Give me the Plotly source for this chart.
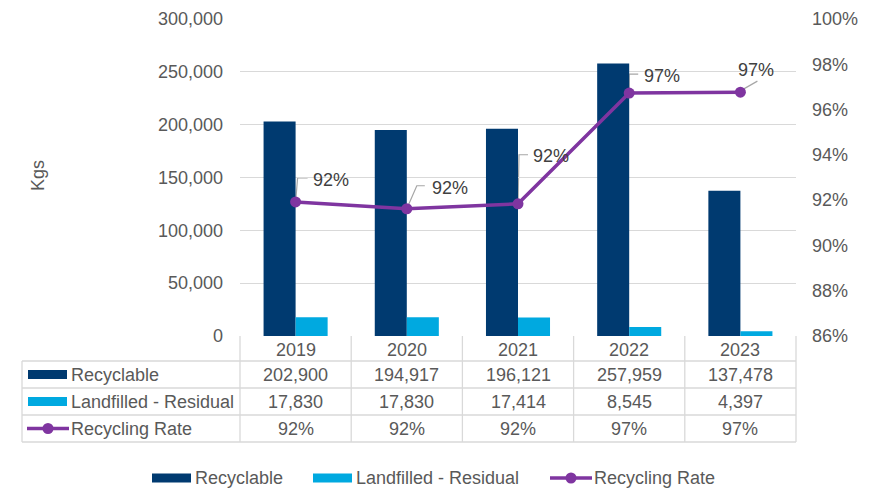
import plotly.graph_objects as go

# ---- data ----
years = ["2019", "2020", "2021", "2022", "2023"]
recyclable = [202900, 194917, 196121, 257959, 137478]
landfilled = [17830, 17830, 17414, 8545, 4397]
recycling_rate = [0.9192, 0.9162, 0.9184, 0.9673, 0.9677]

series_names = ["Recyclable", "Landfilled - Residual", "Recycling Rate"]

# ---- styling ----
W, H = 879, 488
NAVY = "#003A70"
CYAN = "#00A9E0"
PURPLE = "#7F35A0"
GRID = "#D9D9D9"
TXT = "#595959"
FONT = "Liberation Sans, Arial, sans-serif"
FS = 18

# plot area in pixels
PL, PR, PT, PB = 240, 796, 19, 336
TABLE_LEFT = 22
ROW_LINES = [361, 388, 415, 442]


def px(x):
    return x / W


def py(y):
    return 1 - y / H


fig = go.Figure()

fig.add_trace(go.Bar(x=years, y=recyclable, name=series_names[0],
                     marker=dict(color=NAVY, line=dict(width=0)),
                     showlegend=False, hoverinfo="x+y"))
fig.add_trace(go.Bar(x=years, y=landfilled, name=series_names[1],
                     marker=dict(color=CYAN, line=dict(width=0)),
                     showlegend=False, hoverinfo="x+y"))
fig.add_trace(go.Scatter(x=years, y=recycling_rate, name=series_names[2],
                         yaxis="y2", mode="lines+markers",
                         line=dict(color=PURPLE, width=3.5),
                         marker=dict(color=PURPLE, size=11),
                         showlegend=False))

shapes = []
annotations = []

# data labels with leader lines (pixel offsets from each point)
leader_paths = [
    "M0,0 L2,24 L12,24",
    "M0,0 L10,23 L18,23",
    "M0,0 L1,49 L10,49",
    "M0,0 L0,19 L9,19",
    "M3,3 L17,11",
]
label_offsets = [(15, 22), (23, 21), (13, 48), (13, 17), (-4, 22)]

for i, (r, path, (dx, dy)) in enumerate(zip(recycling_rate, leader_paths, label_offsets)):
    shapes.append(dict(type="path", xref="x", yref="y2",
                       xsizemode="pixel", ysizemode="pixel",
                       xanchor=i, yanchor=r, path=path,
                       line=dict(color="#A6A6A6", width=1.2), layer="below"))
    annotations.append(dict(x=i, y=r, xref="x", yref="y2", text=f"{r:.0%}",
                            showarrow=False, xanchor="left", yanchor="middle",
                            xshift=dx, yshift=dy,
                            font=dict(family=FONT, size=FS, color="#404040")))

# ---- data table under the chart ----
n = len(years)
col_w = (PR - PL) / n
col_edges = [PL + i * col_w for i in range(n + 1)]

for xe in col_edges:
    shapes.append(dict(type="line", xref="paper", yref="paper",
                       x0=px(xe), x1=px(xe), y0=py(PB), y1=py(ROW_LINES[-1]),
                       line=dict(color=GRID, width=1.3)))
shapes.append(dict(type="line", xref="paper", yref="paper",
                   x0=px(TABLE_LEFT), x1=px(TABLE_LEFT),
                   y0=py(ROW_LINES[0]), y1=py(ROW_LINES[-1]),
                   line=dict(color=GRID, width=1.3)))
for yl in ROW_LINES:
    shapes.append(dict(type="line", xref="paper", yref="paper",
                       x0=px(TABLE_LEFT), x1=px(PR), y0=py(yl), y1=py(yl),
                       line=dict(color=GRID, width=1.3)))

row_values = [
    [f"{v:,}" for v in recyclable],
    [f"{v:,}" for v in landfilled],
    [f"{v:.0%}" for v in recycling_rate],
]

header_mid = (PB + ROW_LINES[0]) / 2 + 1
for i, yr in enumerate(years):
    annotations.append(dict(x=px(col_edges[i] + col_w / 2), y=py(header_mid),
                            xref="paper", yref="paper", text=yr, showarrow=False,
                            xanchor="center", yanchor="middle",
                            font=dict(family=FONT, size=FS, color=TXT)))


def add_key(x_left, y_mid, kind, color):
    """Series key: a bar swatch or a line with a marker."""
    if kind == "bar":
        shapes.append(dict(type="rect", xref="paper", yref="paper",
                           x0=px(x_left), x1=px(x_left + 39),
                           y0=py(y_mid + 4.5), y1=py(y_mid - 4.5),
                           fillcolor=color, line=dict(width=0)))
    else:
        shapes.append(dict(type="line", xref="paper", yref="paper",
                           x0=px(x_left - 1), x1=px(x_left + 41),
                           y0=py(y_mid), y1=py(y_mid),
                           line=dict(color=color, width=3.5)))
        shapes.append(dict(type="circle", xref="paper", yref="paper",
                           x0=px(x_left + 20 - 5.5), x1=px(x_left + 20 + 5.5),
                           y0=py(y_mid + 5.5), y1=py(y_mid - 5.5),
                           fillcolor=color, line=dict(width=0)))


kinds = ["bar", "bar", "line"]
colors = [NAVY, CYAN, PURPLE]
for r in range(3):
    ymid = (ROW_LINES[r] + ROW_LINES[r + 1]) / 2
    add_key(28, ymid, kinds[r], colors[r])
    annotations.append(dict(x=px(69), y=py(ymid), xref="paper", yref="paper",
                            text=series_names[r], showarrow=False,
                            xanchor="left", yanchor="middle",
                            font=dict(family=FONT, size=FS, color=TXT)))
    for i, val in enumerate(row_values[r]):
        annotations.append(dict(x=px(col_edges[i] + col_w / 2), y=py(ymid),
                                xref="paper", yref="paper", text=val,
                                showarrow=False, xanchor="center", yanchor="middle",
                                font=dict(family=FONT, size=FS, color=TXT)))

# ---- legend at the bottom ----
legend_y = 478
legend_x = [152, 313, 551]
for k in range(3):
    add_key(legend_x[k], legend_y, kinds[k], colors[k])
    annotations.append(dict(x=px(legend_x[k] + 41), y=py(legend_y), xref="paper",
                            yref="paper", text=series_names[k], showarrow=False,
                            xanchor="left", yanchor="middle",
                            font=dict(family=FONT, size=FS, color=TXT)))

# axis title
annotations.append(dict(x=px(38), y=py(176), xref="paper", yref="paper",
                        text="Kgs", textangle=-90, showarrow=False,
                        xanchor="center", yanchor="middle",
                        font=dict(family=FONT, size=FS, color=TXT)))

fig.update_layout(
    width=W, height=H,
    margin=dict(l=0, r=0, t=0, b=0),
    paper_bgcolor="white", plot_bgcolor="white",
    font=dict(family=FONT, size=FS, color=TXT),
    barmode="group", bargap=0.424, bargroupgap=0,
    xaxis=dict(domain=[px(PL), px(PR)], type="category", range=[-0.5, n - 0.5],
               showticklabels=False, showgrid=False, zeroline=False,
               showline=False, ticks="", automargin=False),
    yaxis=dict(domain=[py(PB), py(PT)], range=[0, 300000], dtick=50000,
               tickformat=",", showgrid=True, gridcolor=GRID, gridwidth=1.3,
               zeroline=False, showline=False, ticks="",
               ticklabelstandoff=16, automargin=False,
               tickfont=dict(family=FONT, size=FS, color=TXT)),
    yaxis2=dict(overlaying="y", side="right", range=[0.86, 1.0], dtick=0.02,
                tickformat=".0%", showgrid=False, zeroline=False,
                showline=False, ticks="", ticklabelstandoff=15, automargin=False,
                tickfont=dict(family=FONT, size=FS, color=TXT)),
    shapes=shapes,
    annotations=annotations,
)

fig.write_html("out.html")
